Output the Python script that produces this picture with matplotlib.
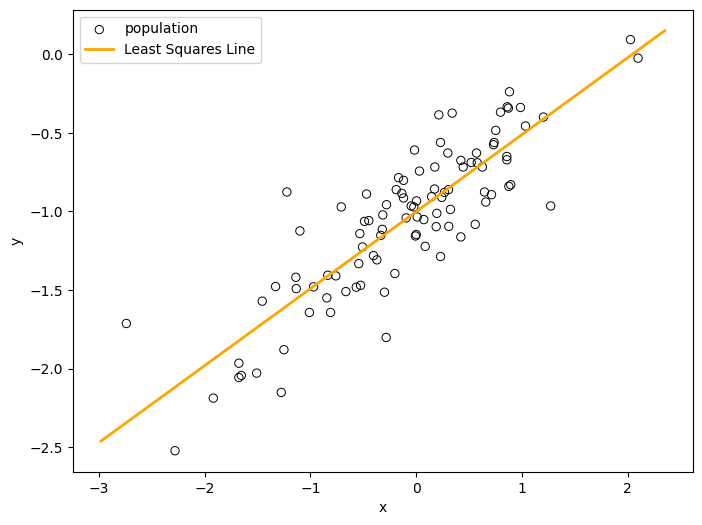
import numpy as np
import matplotlib
matplotlib.use("Agg")
import matplotlib.pyplot as plt

# Sample points
x = np.array([
    -2.741, -2.281, -1.919, -1.677, -1.654, -1.677, -1.509, -1.276, -1.251, -1.456,
    -1.330, -1.138, -1.134, -1.010, 2.026, 2.098, 0.882, 0.797, 0.860, 0.872,
    0.986, 1.203, 1.033, 0.752, 0.737, 0.731, 0.214, 0.340, 0.230, -0.016,
    0.299, 0.570, 0.857, 0.857, 0.422, 0.520, 0.577, 0.444, 0.626, 0.176,
    0.031, -1.223, -1.100, -0.709, -0.470, -0.281, -0.316, -0.489, -0.448, -0.533,
    -0.321, -0.335, -0.508, -0.404, -0.372, -0.543, -0.167, -0.120, -0.189, -0.136,
    -0.120, 0.003, -0.047, -0.022, -0.095, 0.009, 0.000, -0.007, 0.876,
    0.894, 0.646, 0.712, 0.658, 1.272, 0.173, 0.305, 0.267, 0.145, 0.242,
    0.324, 0.195, 0.072, 0.189, 0.308, 0.558, 0.422, 0.085, 0.230, -0.971,
    -0.836, -0.760, -0.665, -0.567, -0.526, -0.845, -0.810, -0.202, -0.300, -0.284,
])
y = np.array([
    -1.713, -2.523, -2.188, -1.966, -2.044, -2.057, -2.029, -2.152, -1.880, -1.571,
    -1.478, -1.419, -1.491, -1.643, 0.094, -0.024, -0.238, -0.368, -0.334, -0.342,
    -0.338, -0.399, -0.456, -0.484, -0.561, -0.575, -0.385, -0.374, -0.561, -0.609,
    -0.628, -0.628, -0.650, -0.671, -0.675, -0.688, -0.690, -0.717, -0.717, -0.717,
    -0.743, -0.876, -1.124, -0.971, -0.889, -0.957, -1.022, -1.063, -1.058, -1.141,
    -1.114, -1.152, -1.226, -1.281, -1.308, -1.332, -0.785, -0.802, -0.861, -0.885,
    -0.914, -0.933, -0.965, -0.971, -1.041, -1.035, -1.147, -1.156, -0.840,
    -0.830, -0.876, -0.893, -0.940, -0.965, -0.857, -0.861, -0.879, -0.906, -0.910,
    -0.987, -1.012, -1.052, -1.097, -1.095, -1.082, -1.162, -1.222, -1.287, -1.480,
    -1.406, -1.410, -1.510, -1.482, -1.470, -1.550, -1.643, -1.395, -1.514, -1.802,
])

# Least squares line
slope = 0.490
intercept = -1.001
line_x = np.array([-2.98, 2.35])
line_y = intercept + slope * line_x

fig, ax = plt.subplots(figsize=(8, 6))
ax.scatter(x, y, facecolors='none', edgecolors='black', linewidths=0.7, label='population')
ax.plot(line_x, line_y, color='orange', linewidth=2, label='Least Squares Line')
ax.set_xlabel('x')
ax.set_ylabel('y')
ax.legend(loc='upper left')
plt.savefig('out.png', dpi=100, bbox_inches='tight')
